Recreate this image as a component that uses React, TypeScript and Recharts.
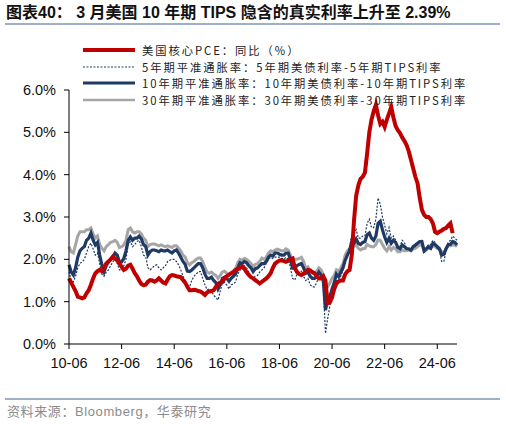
import { LineChart, Line, XAxis, YAxis } from "recharts";

// 2010-06 .. 2025-03, monthly
const months: string[] = [];
for (let y = 2010; y <= 2025; y++) {
  for (let m = 1; m <= 12; m++) {
    if (y === 2010 && m < 6) continue;
    if (y === 2025 && m > 3) continue;
    months.push(`${String(y).slice(2)}-${String(m).padStart(2, "0")}`);
  }
}

const xTicks = ["10-06", "12-06", "14-06", "16-06", "18-06", "20-06", "22-06", "24-06"];
const yTicks = [0, 1, 2, 3, 4, 5, 6];

// 美国核心PCE 同比 (ends 2025-01)
const pce = [
  1.55, 1.45, 1.35, 1.25, 1.12, 1.1, 1.08,
  1.1, 1.2, 1.27, 1.4, 1.55, 1.67, 1.72, 1.75, 1.72, 1.8, 1.9, 1.95,
  2.0, 2.06, 2.02, 1.98, 1.9, 1.82, 1.75, 1.78, 1.85, 1.87, 1.78, 1.67,
  1.6, 1.5, 1.42, 1.39, 1.4, 1.47, 1.51, 1.5, 1.47, 1.5, 1.55, 1.5,
  1.45, 1.43, 1.52, 1.6, 1.63, 1.62, 1.6, 1.59, 1.58, 1.51, 1.45, 1.35,
  1.27, 1.27, 1.28, 1.27, 1.25, 1.24, 1.2, 1.16, 1.22, 1.24, 1.25, 1.27,
  1.35, 1.42, 1.45, 1.47, 1.55, 1.6, 1.64, 1.67, 1.7, 1.75, 1.77, 1.8,
  1.83, 1.78, 1.7, 1.63, 1.58, 1.55, 1.51, 1.47, 1.43, 1.47, 1.51, 1.55,
  1.6, 1.67, 1.8, 1.9, 1.94, 1.97, 1.98, 1.96, 1.94, 1.97, 2.0, 2.02,
  1.8, 1.7, 1.65, 1.63, 1.66, 1.7, 1.75, 1.74, 1.7, 1.67, 1.6, 1.55,
  1.55, 1.6, 1.5, 0.96, 0.98, 1.1, 1.3, 1.43, 1.48, 1.5, 1.5, 1.65,
  1.72, 1.75, 2.1, 2.9, 3.5, 3.75, 3.9, 3.95, 4.05, 4.5, 5.0, 5.3,
  5.5, 5.65, 5.4, 5.2, 5.25, 5.13, 5.3, 5.45, 5.6, 5.35, 5.15, 5.05,
  4.98, 4.88, 4.8, 4.7, 4.55, 4.35, 4.15, 3.95, 3.8, 3.45, 3.17, 3.05,
  3.0, 3.0, 2.95, 2.85, 2.65, 2.62, 2.65, 2.68, 2.72, 2.74, 2.8, 2.85,
  2.62,
];

// 5年期平准通胀率
const be5 = [
  1.71, 1.5, 1.47, 1.6, 1.8, 1.9, 1.94,
  2.0, 2.15, 2.3, 2.38, 2.25, 2.1, 2.15, 1.9, 1.65, 1.6, 1.7, 1.75,
  1.85, 1.94, 2.0, 1.9, 1.75, 1.75, 1.85, 2.0, 2.35, 2.42, 2.3, 2.35,
  2.42, 2.45, 2.3, 2.1, 2.06, 1.8, 1.75, 1.8, 1.85, 1.87, 1.8, 1.75,
  1.8, 1.85, 1.95, 1.98, 2.0, 2.0, 1.95, 1.87, 1.75, 1.6, 1.5, 1.3,
  1.35, 1.5, 1.6, 1.65, 1.71, 1.71, 1.55, 1.4, 1.28, 1.3, 1.25, 1.15,
  1.1, 1.04, 1.25, 1.45, 1.45, 1.39, 1.3, 1.4, 1.42, 1.47, 1.65, 1.75,
  1.75, 1.85, 1.8, 1.7, 1.6, 1.55, 1.6, 1.62, 1.7, 1.75, 1.8, 1.9,
  2.0, 2.05, 2.02, 2.05, 2.05, 2.05, 2.03, 2.0, 2.05, 2.0, 1.8, 1.55,
  1.51, 1.65, 1.7, 1.72, 1.6, 1.5, 1.55, 1.4, 1.35, 1.35, 1.45, 1.6,
  1.6, 1.4, 0.25, 0.6, 0.9, 1.1, 1.3, 1.5, 1.5, 1.6, 1.75, 2.0,
  2.15, 2.3, 2.55, 2.6, 2.7, 2.5, 2.5, 2.55, 2.55, 2.85, 2.95, 2.75,
  2.75, 2.95, 3.45, 3.3, 3.0, 2.8, 2.6, 2.75, 2.5, 2.55, 2.45, 2.3,
  2.3, 2.45, 2.4, 2.25, 2.25, 2.2, 2.3, 2.3, 2.35, 2.45, 2.45, 2.15,
  2.25, 2.35, 2.35, 2.45, 2.4, 2.25, 2.2, 1.95, 1.95, 2.2, 2.4, 2.45,
  2.55, 2.5, 2.45,
];

// 10年期平准通胀率
const be10 = [
  1.87, 1.7, 1.63, 1.8, 2.05, 2.2, 2.26,
  2.3, 2.45, 2.5, 2.62, 2.45, 2.34, 2.4, 2.1, 1.87, 1.71, 1.85, 1.95,
  2.0, 2.06, 2.15, 2.1, 1.94, 1.94, 2.02, 2.2, 2.45, 2.53, 2.45, 2.5,
  2.5, 2.55, 2.48, 2.35, 2.3, 2.1, 2.18, 2.22, 2.22, 2.2, 2.18, 2.22,
  2.2, 2.2, 2.22, 2.18, 2.15, 2.2, 2.22, 2.15, 2.05, 1.95, 1.88, 1.72,
  1.71, 1.75, 1.8, 1.85, 1.9, 1.9, 1.8, 1.65, 1.55, 1.55, 1.58, 1.5,
  1.45, 1.3, 1.4, 1.55, 1.58, 1.55, 1.48, 1.55, 1.6, 1.65, 1.8, 1.92,
  1.9, 1.95, 1.92, 1.85, 1.8, 1.71, 1.78, 1.8, 1.85, 1.9, 1.9, 1.95,
  2.05, 2.1, 2.08, 2.15, 2.15, 2.12, 2.1, 2.1, 2.15, 2.15, 2.0, 1.79,
  1.79, 1.85, 1.88, 1.9, 1.8, 1.67, 1.7, 1.6, 1.55, 1.55, 1.6, 1.7,
  1.63, 1.5, 0.8, 1.05, 1.12, 1.3, 1.45, 1.65, 1.59, 1.7, 1.8, 1.98,
  2.1, 2.2, 2.42, 2.38, 2.48, 2.38, 2.35, 2.4, 2.42, 2.58, 2.62, 2.5,
  2.45, 2.55, 2.85, 2.9, 2.7, 2.53, 2.4, 2.5, 2.38, 2.45, 2.4, 2.28,
  2.25, 2.34, 2.3, 2.25, 2.25, 2.22, 2.3, 2.34, 2.38, 2.42, 2.42, 2.2,
  2.25, 2.3, 2.26, 2.38, 2.35, 2.3, 2.25, 2.1, 2.12, 2.25, 2.35, 2.35,
  2.42, 2.4, 2.34,
];

// 30年期平准通胀率
const be30 = [
  2.3, 2.18, 2.15, 2.35, 2.55, 2.65, 2.65,
  2.65, 2.7, 2.7, 2.74, 2.6, 2.5, 2.55, 2.35, 2.26, 2.2, 2.3, 2.35,
  2.4, 2.42, 2.45, 2.4, 2.28, 2.3, 2.34, 2.45, 2.7, 2.74, 2.65, 2.62,
  2.65, 2.65, 2.6, 2.5, 2.45, 2.3, 2.35, 2.36, 2.36, 2.34, 2.32, 2.34,
  2.32, 2.3, 2.32, 2.3, 2.28, 2.32, 2.32, 2.26, 2.2, 2.1, 2.05, 1.92,
  1.87, 1.92, 1.95, 2.0, 2.03, 2.03, 1.95, 1.8, 1.7, 1.67, 1.7, 1.65,
  1.62, 1.55, 1.62, 1.7, 1.72, 1.67, 1.62, 1.68, 1.72, 1.79, 1.92, 2.0,
  1.98, 2.02, 2.0, 1.95, 1.9, 1.83, 1.88, 1.9, 1.95, 2.03, 2.0, 2.05,
  2.15, 2.2, 2.18, 2.22, 2.24, 2.22, 2.2, 2.2, 2.25, 2.22, 2.1, 1.95,
  2.0, 2.0, 2.02, 2.05, 1.95, 1.79, 1.82, 1.72, 1.67, 1.67, 1.72, 1.8,
  1.75, 1.65, 1.3, 1.35, 1.44, 1.55, 1.62, 1.75, 1.71, 1.8, 1.9, 2.1,
  2.2, 2.25, 2.34, 2.3, 2.35, 2.26, 2.22, 2.25, 2.26, 2.35, 2.32, 2.3,
  2.3, 2.35, 2.46, 2.45, 2.35, 2.26, 2.2, 2.3, 2.22, 2.28, 2.25, 2.18,
  2.18, 2.22, 2.2, 2.2, 2.22, 2.2, 2.24, 2.26, 2.3, 2.34, 2.34, 2.2,
  2.22, 2.26, 2.26, 2.32, 2.3, 2.26, 2.24, 2.18, 2.16, 2.24, 2.32, 2.32,
  2.34, 2.34, 2.3,
];

const data = months.map((date, i) => ({
  date,
  pce: pce[i] ?? null,
  be5: be5[i],
  be10: be10[i],
  be30: be30[i],
}));

const RED = "#C00000";
const NAVY = "#1F3A64";
const GREY = "#A6A6A6";
const RULE = "#9DB0C9";

const legendItems = [
  { label: "美国核心PCE：同比（%）", color: RED, width: 4, dash: undefined },
  { label: "5年期平准通胀率：5年期美债利率-5年期TIPS利率", color: NAVY, width: 1, dash: "2 1.5" },
  { label: "10年期平准通胀率：10年期美债利率-10年期TIPS利率", color: NAVY, width: 3, dash: undefined },
  { label: "30年期平准通胀率：30年期美债利率-30年期TIPS利率", color: GREY, width: 2.5, dash: undefined },
];

const axisFont = { fontFamily: "Liberation Sans, Arial, sans-serif", fontSize: 14.5, fill: "#111" };

function ChartLegend() {
  return (
    <div
      style={{
        position: "absolute",
        left: 83,
        top: 42,
        fontFamily: "'Noto Sans CJK SC', sans-serif",
        fontSize: 11.3,
        lineHeight: "16.5px",
        letterSpacing: 1.95,
        color: "#222",
      }}
    >
      {legendItems.map((it) => (
        <div key={it.label} style={{ display: "flex", alignItems: "center", height: 16.5 }}>
          <svg width={52} height={8} style={{ marginRight: 7, flex: "none" }}>
            <line x1={0} y1={4} x2={52} y2={4} stroke={it.color} strokeWidth={it.width} strokeDasharray={it.dash} />
          </svg>
          <span style={{ whiteSpace: "nowrap" }}>{it.label}</span>
        </div>
      ))}
    </div>
  );
}

export default function App() {
  return (
    <div style={{ position: "absolute", left: 0, top: 0, width: 506, height: 424, background: "#fff" }}>
      <div
        style={{
          position: "absolute",
          left: 6,
          top: 3,
          fontFamily: "Liberation Sans, 'Noto Sans CJK SC', sans-serif",
          fontWeight: "bold",
          fontSize: 16,
          lineHeight: "20px",
          color: "#111",
          whiteSpace: "nowrap",
        }}
      >
        图表40： 3 月美国 10 年期 TIPS 隐含的真实利率上升至 2.39%
      </div>
      <div style={{ position: "absolute", left: 5, top: 23, width: 495, height: 1.5, background: RULE }} />

      <div style={{ position: "absolute", left: 0, top: 0 }}>
        <LineChart width={506} height={380} data={data} margin={{ top: 90, right: 49, left: 0, bottom: 0 }}>
          <XAxis
            dataKey="date"
            ticks={xTicks}
            interval={0}
            tick={axisFont}
            tickSize={5}
            tickMargin={9}
            height={36}
            stroke="#000"
            padding={{ left: 0, right: 0 }}
          />
          <YAxis
            domain={[0, 6]}
            ticks={yTicks}
            tickFormatter={(v: number) => `${v.toFixed(1)}%`}
            tick={axisFont}
            tickSize={5}
            tickMargin={8}
            width={69}
            stroke="#000"
            allowDataOverflow
          />
          <Line dataKey="be30" stroke={GREY} strokeWidth={3} dot={false} isAnimationActive={false} type="linear" />
          <Line dataKey="be10" stroke={NAVY} strokeWidth={3.2} dot={false} isAnimationActive={false} type="linear" />
          <Line dataKey="be5" stroke={NAVY} strokeWidth={1.2} strokeDasharray="2 1.5" dot={false} isAnimationActive={false} type="linear" />
          <Line dataKey="pce" stroke={RED} strokeWidth={4} dot={false} isAnimationActive={false} type="linear" />
        </LineChart>
      </div>

      <ChartLegend />

      <div style={{ position: "absolute", left: 5, top: 398, width: 495, height: 1.5, background: RULE }} />
      <div
        style={{
          position: "absolute",
          left: 7,
          top: 403,
          fontFamily: "Liberation Sans, 'Noto Sans CJK SC', sans-serif",
          fontSize: 13,
          lineHeight: "17px",
          letterSpacing: 0.6,
          color: "#8C8C8C",
          whiteSpace: "nowrap",
        }}
      >
        资料来源：Bloomberg，华泰研究
      </div>
    </div>
  );
}
